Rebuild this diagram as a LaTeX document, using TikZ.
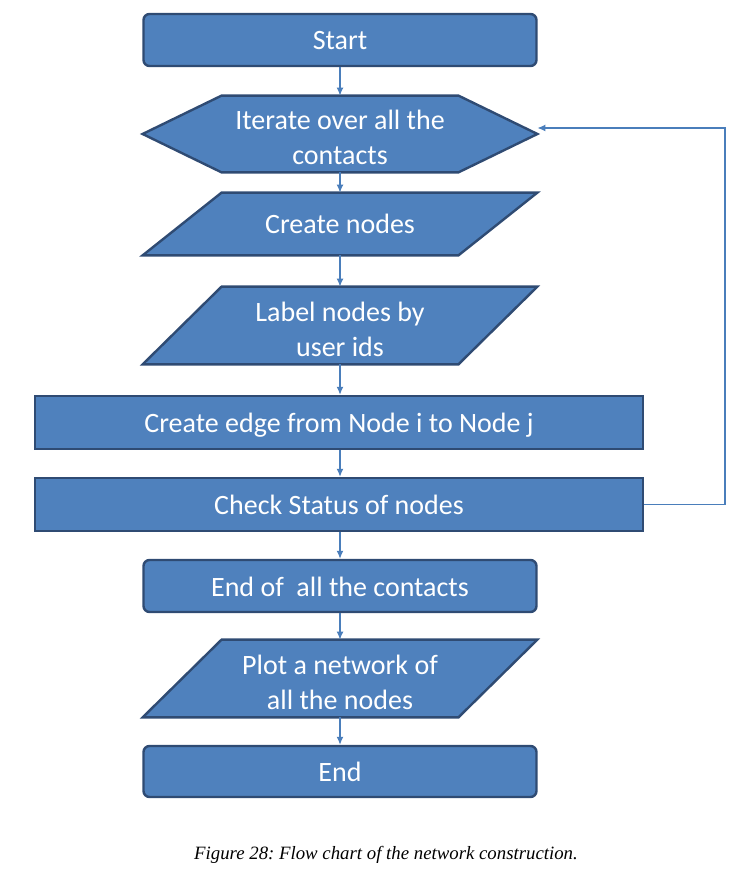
\documentclass[tikz,border=0pt]{standalone}
\usepackage{fontspec}
\setmainfont{Carlito}
\newfontfamily\capfont{Liberation Serif}
\usetikzlibrary{arrows.meta,calc,backgrounds}
\definecolor{boxblue}{HTML}{4F81BD}
\definecolor{boxline}{HTML}{2F4B73}
\definecolor{arrowblue}{HTML}{4A7EBB}
\tikzset{
  block/.style={text=white, font=\fontsize{14}{17.5}\selectfont, align=center, inner sep=0pt},
  oneline/.style={text height=10pt, text depth=0pt},
  twoline/.style={text height=31pt, text depth=0pt},
  outline/.style={fill=boxblue, draw=boxline, line width=1.2pt},
  roundbox/.style={block, oneline, outline, rounded corners=3pt, minimum width=196.5pt},
  plainbox/.style={block, oneline, outline, minimum width=304pt, minimum height=26.5pt},
  slantbox/.style={block, minimum width=197pt},
  flow/.style={->, draw=arrowblue, line width=0.65pt}
}
\begin{document}
\begin{tikzpicture}[x=0.5pt,y=-0.5pt,>={Latex[length=4pt,width=3.5pt]}]
  \useasboundingbox (0,0) rectangle (742,870);
  % blocks of the chart
  \node[roundbox, minimum height=26pt] (start) at (340,40) {Start};
  \node[slantbox, twoline, minimum height=38pt] (iter) at (340,134) {Iterate over all the\\contacts};
  \node[slantbox, oneline, minimum height=31pt] (create) at (340,224) {Create nodes};
  \node[slantbox, twoline, minimum height=38.5pt] (label) at (340,325.5) {Label nodes by\\user ids};
  \node[plainbox] (edge) at (339,422.5) {Create edge from Node i to Node j};
  \node[plainbox] (check) at (339,504.5) {Check Status of nodes};
  \node[roundbox, minimum height=26pt] (endc) at (340,586) {End of~ all the contacts};
  \node[slantbox, twoline, minimum height=38.5pt] (plot) at (340,678.5) {Plot a network of\\all the nodes};
  \node[roundbox, minimum height=25.5pt] (end) at (340,771.5) {End};
  \node (caption) at (386,855) {\capfont\itshape\frenchspacing\fontsize{9.4}{11}\selectfont Figure 28: Flow chart of the network construction.};
  % outlines behind the text
  \begin{scope}[on background layer]
    \draw[outline] (iter.west) -- ($(iter.north west)+(79,0)$) -- ($(iter.north east)-(79,0)$)
      -- (iter.east) -- ($(iter.south east)-(79,0)$) -- ($(iter.south west)+(79,0)$) -- cycle;
    \foreach \n in {create,label,plot}
      \draw[outline] ($(\n.north west)+(79,0)$) -- (\n.north east)
        -- ($(\n.south east)-(79,0)$) -- (\n.south west) -- cycle;
  \end{scope}
  % connectors
  \foreach \a/\b in {start/iter,iter/create,create/label,label/edge,edge/check,check/endc,endc/plot,plot/end}
    \draw[flow] (\a.south -| start) -- (\b.north -| start);
  \coordinate (back) at (725,128);
  \draw[flow] (check.east) -| (back) -- (iter.east |- back);
\end{tikzpicture}
\end{document}
